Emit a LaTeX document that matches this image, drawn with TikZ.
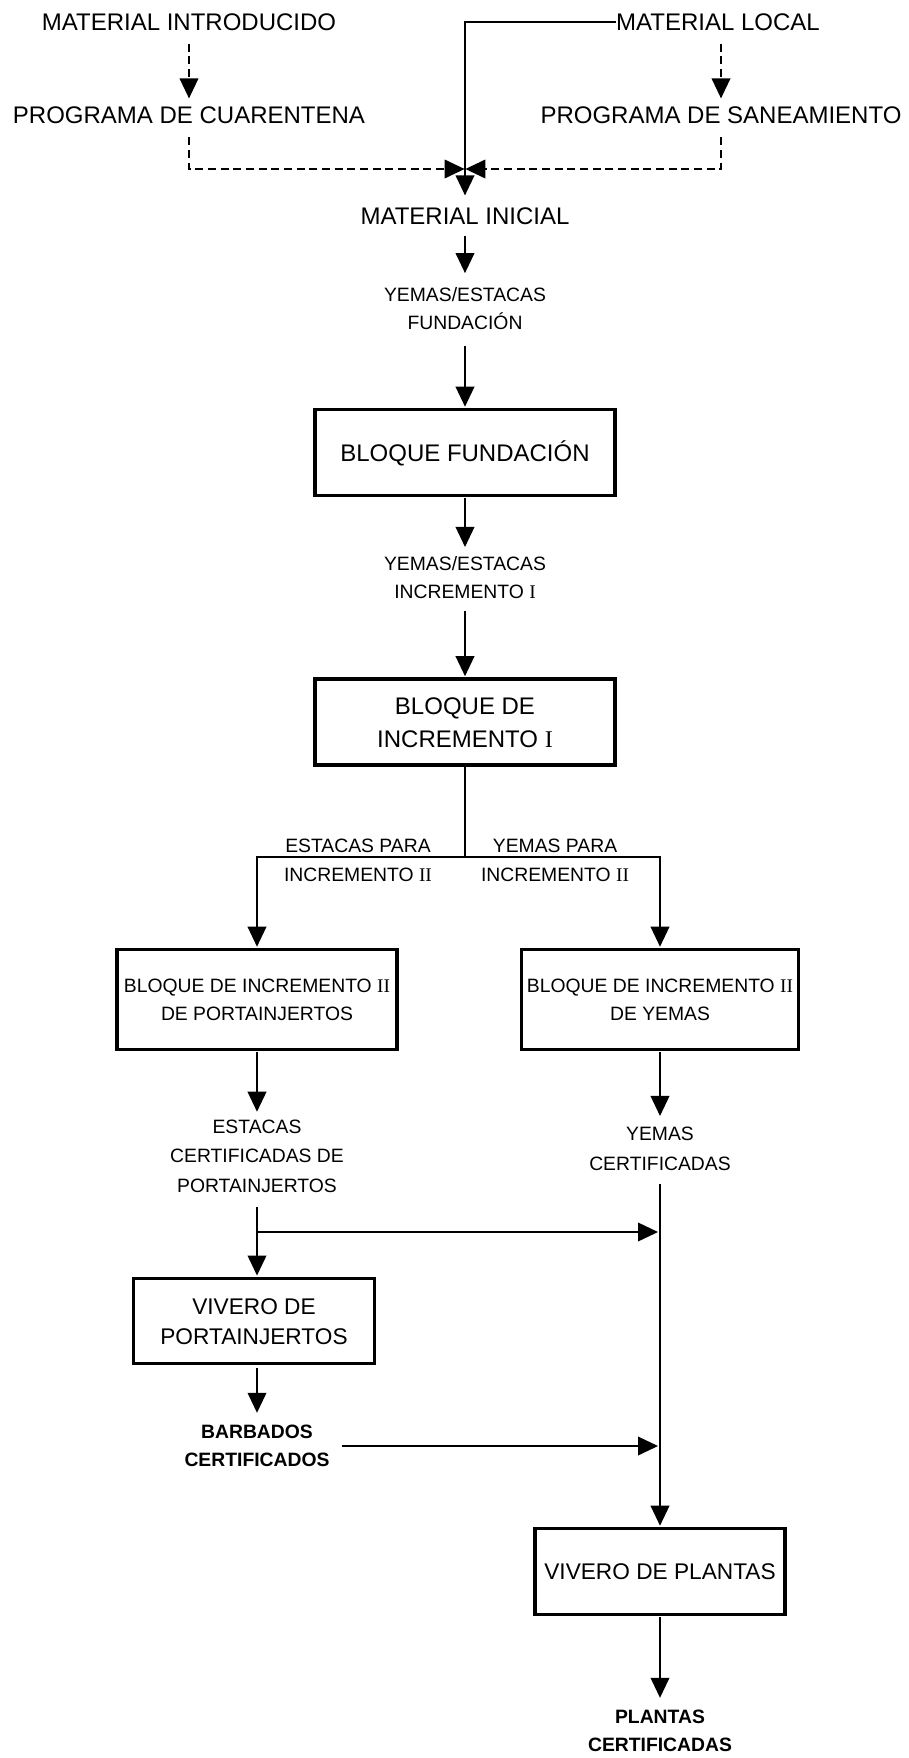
\documentclass[tikz,border=0pt]{standalone}
\usepackage{fontspec}
\setmainfont{Liberation Sans}
\newfontfamily\romfont{Liberation Serif}
\usetikzlibrary{arrows.meta,calc}
\newcommand{\RomI}{{\romfont I}}
\newcommand{\RomII}{{\romfont II}}
\begin{document}
\begin{tikzpicture}[x=0.75pt,y=-0.75pt,
  big/.style={font=\fontsize{18}{24}\selectfont, inner sep=0pt, align=center, text depth=0pt, text height=12.9pt},
  small/.style={font=\fontsize{14.5}{21}\selectfont, inner sep=0pt, align=center, text depth=0pt, text height=10.4pt},
  bsmall/.style={font=\fontsize{14.5}{21}\selectfont\bfseries, inner sep=0pt, align=center, text depth=0pt, text height=10.4pt},
  box/.style={draw, line width=2.6pt},
  arr/.style={line width=1.2pt, -{Triangle[length=15pt,width=14pt]}},
  ln/.style={line width=1.2pt},
  dsh/.style={line width=1.2pt, dash pattern=on 6pt off 3.5pt, -{Triangle[length=15pt,width=14pt]}},
]
\useasboundingbox (0,0) rectangle (909,1758);

% top texts
\node[big] (n1) at (189,22) {MATERIAL INTRODUCIDO};
\node[big] (n2) at (718,22) {MATERIAL LOCAL};
\node[big] (n3) at (189,115) {PROGRAMA DE CUARENTENA};
\node[big] (n4) at (721,115) {PROGRAMA DE SANEAMIENTO};
\coordinate (j) at (465,169);
\node[big] (mi) at (465,216) {MATERIAL INICIAL};

\node[small, text height=31.4pt] (ye1) at (465,309) {YEMAS/ESTACAS\\FUNDACIÓN};
\node[big, box, minimum width=225pt, minimum height=64.5pt] (B1) at (465,452.5) {BLOQUE FUNDACIÓN};
\node[small, text height=31.4pt] (ye2) at (465,577.5) {YEMAS/ESTACAS\\INCREMENTO \RomI};
\node[big, box, font=\fontsize{18}{24.75}\selectfont, text height=37.65pt, minimum width=225pt, minimum height=64.5pt] (B2) at (465,722) {BLOQUE DE\\INCREMENTO \RomI};

\coordinate (sp) at (465,857);
\node[small, font=\fontsize{14.5}{21.75}\selectfont, text height=32.15pt] (lab1) at (358,860.5) {ESTACAS PARA\\INCREMENTO \RomII};
\node[small, font=\fontsize{14.5}{21.75}\selectfont, text height=32.15pt] (lab2) at (555,860.5) {YEMAS PARA\\INCREMENTO \RomII};

\node[small, box, text height=31.4pt, minimum width=210pt, minimum height=75pt] (BL) at (257,999.5) {BLOQUE DE INCREMENTO \RomII\\DE PORTAINJERTOS};
\node[small, box, text height=31.4pt, minimum width=208pt, minimum height=75pt] (BR) at (660,999.5) {BLOQUE DE INCREMENTO \RomII\\DE YEMAS};

\node[small, font=\fontsize{14.5}{22}\selectfont, text height=54.4pt] (ec) at (257,1156) {ESTACAS\\CERTIFICADAS DE\\PORTAINJERTOS};
\node[small, font=\fontsize{14.5}{22}\selectfont, text height=32.4pt] (yc) at (660,1148.5) {YEMAS\\CERTIFICADAS};

\coordinate (br) at (257,1232);
\node[big, box, font=\fontsize{17}{22.5}\selectfont, text height=34.7pt, minimum width=181pt, minimum height=64pt] (BV) at (254,1321) {VIVERO DE\\PORTAINJERTOS};
\node[bsmall, text height=31.4pt] (ba) at (257,1446) {BARBADOS\\CERTIFICADOS};

\node[big, box, font=\fontsize{17}{22.5}\selectfont, text height=12.2pt, minimum width=187.5pt, minimum height=64.5pt] (VP) at (660,1571.5) {VIVERO DE PLANTAS};
\node[bsmall, text height=31.4pt] (pc) at (660,1731) {PLANTAS\\CERTIFICADAS};

% connectors (top)
\draw[dsh, shorten <=9.5pt, shorten >=5.8pt] (n1.south) -- (n1.south |- n3.north);
\draw[dsh, shorten <=9.5pt, shorten >=5.8pt] (n4.north |- n2.south) -- (n4.north);
\draw[arr, shorten >=8.8pt] (n2.west) -| (mi.north);
\draw[dsh, shorten <=10pt, shorten >=0.3pt] (n3.south) |- (j);
\draw[dsh, shorten <=10pt, shorten >=0.3pt] (n4.south) |- (j);

% main chain
\draw[arr, shorten <=8pt, shorten >=11pt] (mi.south) -- (ye1.north);
\draw[arr, shorten <=12pt, shorten >=0.8pt] (ye1.south) -- (B1.north);
\draw[arr, shorten <=0.8pt, shorten >=7pt] (B1.south) -- (ye2.north);
\draw[arr, shorten <=9.5pt, shorten >=0.8pt] (ye2.south) -- (B2.north);
\draw[ln] (B2.south) -- (sp);
\draw[arr, shorten >=0.8pt] (sp) -| (BL.north);
\draw[arr, shorten >=0.8pt] (sp) -| (BR.north);

% left branch
\draw[arr, shorten <=0.8pt, shorten >=5.8pt] (BL.south) -- (ec.north);
\draw[arr, shorten <=11pt, shorten >=0.8pt] (ec.south) -- (ec.south |- BV.north);
\draw[arr, shorten >=1.5pt] (br) -- (br -| yc.south);
\draw[arr, shorten <=2pt, shorten >=9pt] (ba.north |- BV.south) -- (ba.north);
\draw[arr, shorten <=9.4pt, shorten >=1.5pt] (ba.east) -- (ba.east -| yc.south);

% right branch
\draw[arr, shorten <=0.8pt, shorten >=8pt] (BR.south) -- (BR.south |- yc.north);
\draw[arr, shorten <=10pt, shorten >=0.8pt] (yc.south) -- (yc.south |- VP.north);
\draw[arr, shorten <=0.8pt, shorten >=9pt] (VP.south) -- (pc.north);
\end{tikzpicture}
\end{document}
